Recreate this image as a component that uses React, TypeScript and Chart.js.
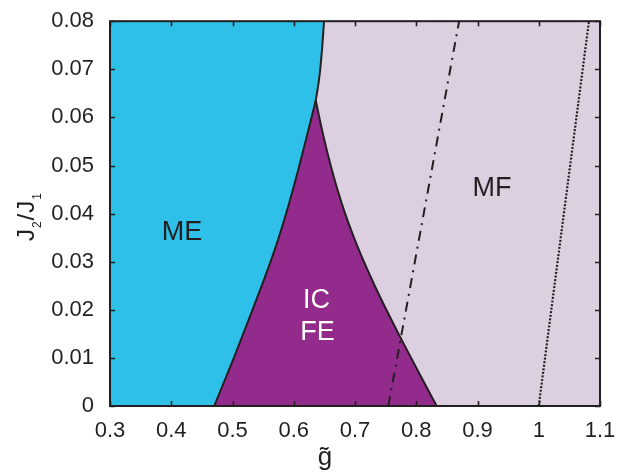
import React, { useEffect, useRef } from "react";
import { Chart, registerables } from "chart.js";

Chart.register(...registerables);

const FONT = "'Liberation Sans', Arial, Helvetica, sans-serif";
const INK = "#231F20";
const CYAN = "#2EC0E8";
const PURPLE = "#922B8C";
const LAVENDER = "#DBCFE0";

// Axis ranges
const X_MIN = 0.3;
const X_MAX = 1.1;
const Y_MIN = 0;
const Y_MAX = 0.08;

// ME boundary: g~ values along J2/J1
const meBoundaryJ = [0, 0.01, 0.02, 0.03, 0.035, 0.04, 0.045, 0.05, 0.055, 0.06, 0.0636, 0.067, 0.07, 0.075, 0.08];
const meBoundaryG = [0.4702, 0.5022, 0.5327, 0.5622, 0.5755, 0.5875, 0.5987, 0.6092, 0.6192, 0.629, 0.6359, 0.6403, 0.6432, 0.6467, 0.6494];

// IC FE / MF boundary
const icBoundaryJ = [0, 0.005, 0.01, 0.015, 0.02, 0.025, 0.03, 0.035, 0.04, 0.045, 0.05, 0.055, 0.06, 0.0636];
const icBoundaryG = [0.8333, 0.8124, 0.7916, 0.7711, 0.7512, 0.7322, 0.7145, 0.6983, 0.6839, 0.6713, 0.6603, 0.6505, 0.6417, 0.6359];

// MF region extends to the right edge
const mfJ = [0, 0.08];
const mfG = [1.1, 1.1];

// Dash-dot line
const dashDotJ = [0, 0.08];
const dashDotG = [0.7544, 0.87];

// Dotted line
const dottedJ = [0, 0.08];
const dottedG = [1.0, 1.082];

// Ticks
const xTickValues = [0.3, 0.4, 0.5, 0.6, 0.7, 0.8, 0.9, 1.0, 1.1];
const xTickLabels = ["0.3", "0.4", "0.5", "0.6", "0.7", "0.8", "0.9", "1", "1.1"];
const yTickValues = [0, 0.01, 0.02, 0.03, 0.04, 0.05, 0.06, 0.07, 0.08];
const yTickLabels = ["0", "0.01", "0.02", "0.03", "0.04", "0.05", "0.06", "0.07", "0.08"];

// Region labels (text, g~, J2/J1 of baseline, color)
const regionText = ["ME", "MF", "IC", "FE"];
const regionG = [0.4175, 0.9237, 0.6371, 0.6388];
const regionJ = [0.0346, 0.0437, 0.0203, 0.0137];
const regionColor = [INK, INK, "#FFFFFF", "#FFFFFF"];

const pts = (g: number[], j: number[]) => g.map((v, i) => ({ x: v, y: j[i] }));

const framePlugin = {
  id: "phaseFrame",
  afterDatasetsDraw(chart: any) {
    const { ctx, chartArea: a } = chart;
    const x = chart.scales.x;
    const y = chart.scales.y;
    ctx.save();
    // inner ticks on all four sides
    ctx.strokeStyle = INK;
    ctx.lineWidth = 1.6;
    ctx.beginPath();
    for (const v of xTickValues) {
      const px = Math.round(x.getPixelForValue(v)) + 0.5;
      ctx.moveTo(px, a.bottom);
      ctx.lineTo(px, a.bottom - 5);
      ctx.moveTo(px, a.top);
      ctx.lineTo(px, a.top + 5);
    }
    for (const v of yTickValues) {
      const py = Math.round(y.getPixelForValue(v)) + 0.5;
      ctx.moveTo(a.left, py);
      ctx.lineTo(a.left + 5, py);
      ctx.moveTo(a.right, py);
      ctx.lineTo(a.right - 5, py);
    }
    ctx.stroke();
    // frame
    ctx.lineWidth = 2;
    ctx.strokeRect(a.left, a.top, a.right - a.left, a.bottom - a.top);

    // region labels
    ctx.font = `27px ${FONT}`;
    ctx.textAlign = "center";
    ctx.textBaseline = "alphabetic";
    regionText.forEach((t, i) => {
      ctx.fillStyle = regionColor[i];
      ctx.fillText(t, x.getPixelForValue(regionG[i]), y.getPixelForValue(regionJ[i]));
    });
    ctx.restore();
  },
  afterDraw(chart: any) {
    const { ctx, chartArea: a } = chart;
    ctx.save();
    ctx.fillStyle = INK;
    // x title: g with tilde
    ctx.font = `26px ${FONT}`;
    ctx.textAlign = "center";
    ctx.textBaseline = "alphabetic";
    ctx.fillText("g\u0303", 325, 464.5);

    // y title: J2/J1 with subscripts, rotated
    const big = `24px ${FONT}`;
    const small = `12px ${FONT}`;
    const parts: [string, string, number][] = [
      ["J", big, 0],
      ["2", small, 7],
      ["/", big, 0],
      ["J", big, 0],
      ["1", small, 7],
    ];
    let total = 0;
    for (const [t, f] of parts) {
      ctx.font = f;
      total += ctx.measureText(t).width + 1;
    }
    const cy = (a.top + a.bottom) / 2 + 3;
    ctx.translate(33.5, cy);
    ctx.rotate(-Math.PI / 2);
    ctx.textAlign = "left";
    let pos = -total / 2;
    for (const [t, f, dy] of parts) {
      ctx.font = f;
      ctx.fillText(t, pos, dy);
      pos += ctx.measureText(t).width + 1;
    }
    ctx.restore();
  },
};

export default function App() {
  const ref = useRef<HTMLCanvasElement | null>(null);

  useEffect(() => {
    if (!ref.current) return;
    const lineBase = {
      pointRadius: 0,
      pointHoverRadius: 0,
      borderColor: INK,
    };
    const chart = new Chart(ref.current, {
      type: "line",
      data: {
        datasets: [
          {
            ...lineBase,
            label: "dotted",
            data: pts(dottedG, dottedJ),
            borderWidth: 2.2,
            borderDash: [2, 1.6],
            fill: false,
          },
          {
            ...lineBase,
            label: "dash-dot",
            data: pts(dashDotG, dashDotJ),
            borderWidth: 2,
            borderDash: [10, 6, 2, 6],
            fill: false,
          },
          {
            ...lineBase,
            label: "ME",
            data: pts(meBoundaryG, meBoundaryJ),
            borderWidth: 2,
            backgroundColor: CYAN,
            fill: { value: X_MIN },
            cubicInterpolationMode: "monotone",
          },
          {
            ...lineBase,
            label: "IC FE",
            data: pts(icBoundaryG, icBoundaryJ),
            borderWidth: 2,
            backgroundColor: PURPLE,
            fill: { value: X_MIN },
            cubicInterpolationMode: "monotone",
          },
          {
            ...lineBase,
            label: "MF",
            data: pts(mfG, mfJ),
            borderWidth: 0,
            borderColor: "rgba(0,0,0,0)",
            backgroundColor: LAVENDER,
            fill: { value: X_MIN },
          },
        ] as any,
      },
      options: {
        indexAxis: "y",
        animation: false,
        responsive: false,
        layout: { padding: { top: 20, right: 33, bottom: 0, left: 0 } },
        plugins: {
          legend: { display: false },
          tooltip: { enabled: false },
          filler: { propagate: false },
        },
        events: [],
        scales: {
          x: {
            type: "linear",
            position: "bottom",
            min: X_MIN,
            max: X_MAX,
            grid: { display: false },
            border: { display: false },
            ticks: {
              padding: 4,
              color: INK,
              font: { family: FONT, size: 22 },
              maxRotation: 0,
              autoSkip: false,
              callback: (v: any) => {
                const i = xTickValues.findIndex((t) => Math.abs(t - Number(v)) < 1e-6);
                return i >= 0 ? xTickLabels[i] : "";
              },
            },
            afterBuildTicks: (s: any) => {
              s.ticks = xTickValues.map((v) => ({ value: v }));
            },
            afterFit: (s: any) => {
              s.height = 66;
            },
          },
          y: {
            type: "linear",
            position: "left",
            min: Y_MIN,
            max: Y_MAX,
            grid: { display: false },
            border: { display: false },
            ticks: {
              padding: 8,
              color: INK,
              font: { family: FONT, size: 22 },
              autoSkip: false,
              callback: (v: any) => {
                const i = yTickValues.findIndex((t) => Math.abs(t - Number(v)) < 1e-9);
                return i >= 0 ? yTickLabels[i] : "";
              },
            },
            afterBuildTicks: (s: any) => {
              s.ticks = yTickValues.map((v) => ({ value: v }));
            },
            afterFit: (s: any) => {
              s.width = 110;
            },
          },
        },
      } as any,
      plugins: [framePlugin],
    });
    return () => chart.destroy();
  }, []);

  return (
    <div style={{ position: "fixed", left: 0, top: 0, width: 633, height: 472, background: "#fff" }}>
      <canvas ref={ref} width={633} height={472} style={{ display: "block", width: 633, height: 472 }} />
    </div>
  );
}
